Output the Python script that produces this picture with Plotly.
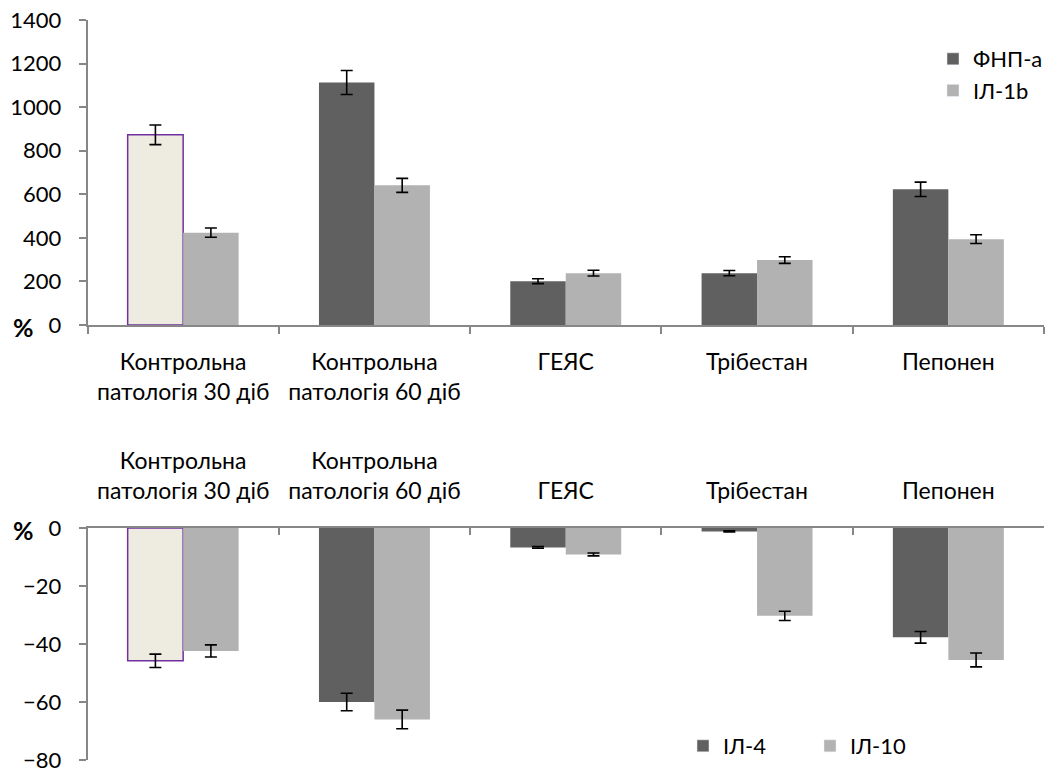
import plotly.graph_objects as go

categories = ["Контрольна<br>патологія 30 діб", "Контрольна<br>патологія 60 діб", "ГЕЯС", "Трібестан", "Пепонен"]

# top chart
tnf_a = [873, 1113, 201, 238, 623]
tnf_a_err = [45, 55, 11, 12, 33]
il1b = [424, 641, 238, 298, 394]
il1b_err = [21, 32, 13, 15, 20]

# bottom chart
il4 = [-45.8, -60.0, -6.7, -1.2, -37.7]
il4_err = [2.3, 3.0, 0.3, 0.2, 2.0]
il10 = [-42.4, -66.0, -9.1, -30.3, -45.5]
il10_err = [2.1, 3.2, 0.5, 1.6, 2.4]

top_ticks = [0, 200, 400, 600, 800, 1000, 1200, 1400]
bottom_ticks = [0, -20, -40, -60, -80]

DARK = "#606060"
LIGHT = "#B2B2B2"
BEIGE = "#EEEBE0"
PURPLE = "#7030A0"
AXIS = "#878787"
FONT = dict(family="Lato, Calibri, sans-serif", size=22, color="black")
CAT_FONT = dict(family="Lato, Calibri, sans-serif", size=23, color="black")

n = len(categories)
dark_colors = [BEIGE] + [DARK] * (n - 1)
dark_line_colors = [PURPLE] + [DARK] * (n - 1)
dark_line_widths = [1.5] + [0] * (n - 1)

err_style = dict(type="data", color="black", thickness=1.6, width=6)

fig = go.Figure()

fig.add_trace(go.Bar(x=categories, y=tnf_a, name="ФНП-а", showlegend=False, offsetgroup="a",
                     marker=dict(color=dark_colors, line=dict(color=dark_line_colors, width=dark_line_widths)),
                     error_y=dict(array=tnf_a_err, **err_style), xaxis="x", yaxis="y"))
fig.add_trace(go.Bar(x=categories, y=il1b, name="ІЛ-1b", showlegend=False, offsetgroup="b",
                     marker=dict(color=LIGHT, line=dict(width=0)),
                     error_y=dict(array=il1b_err, **err_style), xaxis="x", yaxis="y"))
fig.add_trace(go.Bar(x=categories, y=il4, name="ІЛ-4", showlegend=False, offsetgroup="a",
                     marker=dict(color=dark_colors, line=dict(color=dark_line_colors, width=dark_line_widths)),
                     error_y=dict(array=il4_err, **err_style), xaxis="x2", yaxis="y2"))
fig.add_trace(go.Bar(x=categories, y=il10, name="ІЛ-10", showlegend=False, offsetgroup="b",
                     marker=dict(color=LIGHT, line=dict(width=0)),
                     error_y=dict(array=il10_err, **err_style), xaxis="x2", yaxis="y2"))

# legend entries (no data; same offset groups so they do not change bar widths)
for nm, col, lg, og in [("ФНП-а", DARK, "legend", "a"), ("ІЛ-1b", LIGHT, "legend", "b"),
                        ("ІЛ-4", DARK, "legend2", "a"), ("ІЛ-10", LIGHT, "legend2", "b")]:
    fig.add_trace(go.Bar(x=[None], y=[None], name=nm, marker=dict(color=col), offsetgroup=og,
                         legend=lg, xaxis="x", yaxis="y"))

W, H = 1054, 776
x0, x1 = 87.5, 1044
xdom = [x0 / W, x1 / W]
top_dom = [1 - 325 / H, 1 - 20 / H]
bot_dom = [1 - 760 / H, 1 - 528 / H]

axis_common = dict(showline=True, linecolor=AXIS, linewidth=1.5, showgrid=False, zeroline=False,
                   tickcolor=AXIS, tickwidth=1.5, ticklen=7, automargin=False,
                   ticklabeloverflow="allow")

fig.update_layout(
    width=W, height=H,
    margin=dict(l=0, r=0, t=0, b=0, autoexpand=False),
    paper_bgcolor="white", plot_bgcolor="white",
    font=FONT,
    barmode="group", bargap=0.42, bargroupgap=0,
    xaxis=dict(domain=xdom, anchor="y", type="category", ticks="outside", tickson="boundaries",
               ticklabelstandoff=16, tickfont=CAT_FONT, **axis_common),
    yaxis=dict(domain=top_dom, anchor="x", range=[0, 1400], tickvals=top_ticks, ticks="outside",
               ticklabelstandoff=13, tickfont=FONT, **axis_common),
    xaxis2=dict(domain=xdom, anchor="y2", side="top", type="category", ticks="inside", tickson="boundaries",
                ticklabelstandoff=18, tickfont=CAT_FONT, **axis_common),
    yaxis2=dict(domain=bot_dom, anchor="x2", range=[-80, 0], tickvals=bottom_ticks, ticks="outside",
                ticklabelstandoff=13, tickfont=FONT, **axis_common),
    legend=dict(x=933 / W, y=1 - 38 / H, xanchor="left", yanchor="top", font=FONT,
                bgcolor="rgba(0,0,0,0)", tracegroupgap=0, itemwidth=30),
    legend2=dict(orientation="h", x=683 / W, y=1 - 725 / H, xanchor="left", yanchor="top", font=FONT,
                 bgcolor="rgba(0,0,0,0)", entrywidth=82, entrywidthmode="pixels"),
    annotations=[
        dict(text="<b>%</b>", x=11 / W, y=1 - 327 / H, xref="paper", yref="paper", xanchor="left",
             yanchor="middle", showarrow=False, font=dict(family="Lato, sans-serif", size=25, color="black")),
        dict(text="<b>%</b>", x=11 / W, y=1 - 530 / H, xref="paper", yref="paper", xanchor="left",
             yanchor="middle", showarrow=False, font=dict(family="Lato, sans-serif", size=25, color="black")),
    ],
)

fig.write_html("out.html")
